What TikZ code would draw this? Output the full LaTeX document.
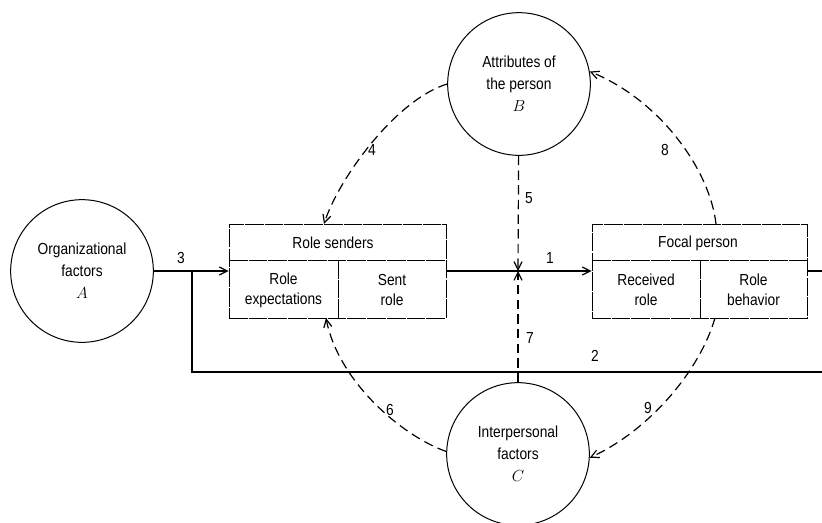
\documentclass[tikz,border=0pt]{standalone}
\usepackage{fontspec}
\setmainfont{Liberation Sans}[FakeStretch=0.86]
\usetikzlibrary{arrows.meta}

\tikzset{every picture/.style={line width=0.75pt}}

\begin{document}
\begin{tikzpicture}[x=0.75pt,y=0.75pt,yscale=-1,xscale=1,
  factor/.style={draw, circle, minimum size=107pt, inner sep=0pt, align=center, font=\fontsize{12}{16.5}\selectfont},
  rolebox/.style={draw, dash pattern={on 14pt off 0.8pt}, line width=0.6pt, inner sep=0pt},
  divider/.style={dash pattern={on 14pt off 0.8pt}, line width=0.6pt},
  cell/.style={align=center, inner sep=0.75pt, font=\fontsize{12}{15}\selectfont},
  num/.style={inner sep=0.75pt, font=\fontsize{12}{14}\selectfont},
  flow/.style={line width=0.9pt, -{Straight Barb[length=6pt,width=6pt]}},
  link/.style={line width=0.9pt, dash pattern={on 7pt off 4pt}, -{Straight Barb[length=6pt,width=6pt]}}]
\useasboundingbox (0,0) rectangle (822,522);

%Shape: Circles
\node[factor] (orgA) at (82,271) {Organizational\\factors\\\large$A$};
\node[factor] (attrB) at (519,84) {Attributes of\\the person\\\large$B$};
\node[factor] (interC) at (518,454) {Interpersonal\\factors\\\large$C$};

%Shape: Boxes
\node[rolebox, minimum width=162.75pt, minimum height=70.5pt] (senders) at (337.5,271) {};
\draw[divider] (229,260) -- (446,260) (338,260) -- (338,318);
\node[rolebox, minimum width=161.25pt, minimum height=70.5pt] (focal) at (699.5,271) {};
\draw[divider] (592,260) -- (807,260) (700,260) -- (700,318);

% Text Node
\node[cell] (sendtitle) at (333,243) {Role senders};
\node[cell] (expect) at (283.5,290) {Role\\expectations};
\node[cell] (sent) at (392,290) {Sent\\role};
\node[cell] (focaltitle) at (698,243) {Focal person};
\node[cell] (received) at (646,290) {Received\\role};
\node[cell] (behavior) at (753.5,290) {Role\\behavior};

%Junctions and ends
\coordinate (j3) at (192,271);
\coordinate (j1) at (518,271);
\coordinate (fbend) at (822,372);
\coordinate (outend) at (822,271);
\coordinate (t4) at (324,224);
\coordinate (s8) at (716,224);
\coordinate (t6) at (326,318);
\coordinate (s9) at (715,318);

%Straight Lines
\draw[flow] (orgA) -- (senders);
\draw[line width=0.9pt] (j3) |- (fbend);
\draw[flow] (senders) -- (focal);
\draw[line width=0.9pt] (focal) -- (outend);
\draw[link] (attrB) -- (j1);
\draw[link] (interC) -- (j1);

%Curve Lines
\draw[link] (attrB.west) .. controls (395,100) and (338,180) .. (t4);
\draw[link] (s8) .. controls (710,170) and (660,100) .. (attrB.10);
\draw[link] (interC.178) .. controls (400,435) and (338,380) .. (t6);
\draw[link] (s9) .. controls (700,370) and (650,430) .. (interC.-3);

% Text Node
\node[num] (n3) at (181,258) {3};
\node[num] (n1) at (550,258) {1};
\node[num] (n2) at (595,356) {2};
\node[num] (n5) at (529,198) {5};
\node[num] (n7) at (530,338) {7};
\node[num] (n4) at (372,150) {4};
\node[num] (n8) at (665,150) {8};
\node[num] (n6) at (390,410) {6};
\node[num] (n9) at (648,408) {9};

\end{tikzpicture}
\end{document}
